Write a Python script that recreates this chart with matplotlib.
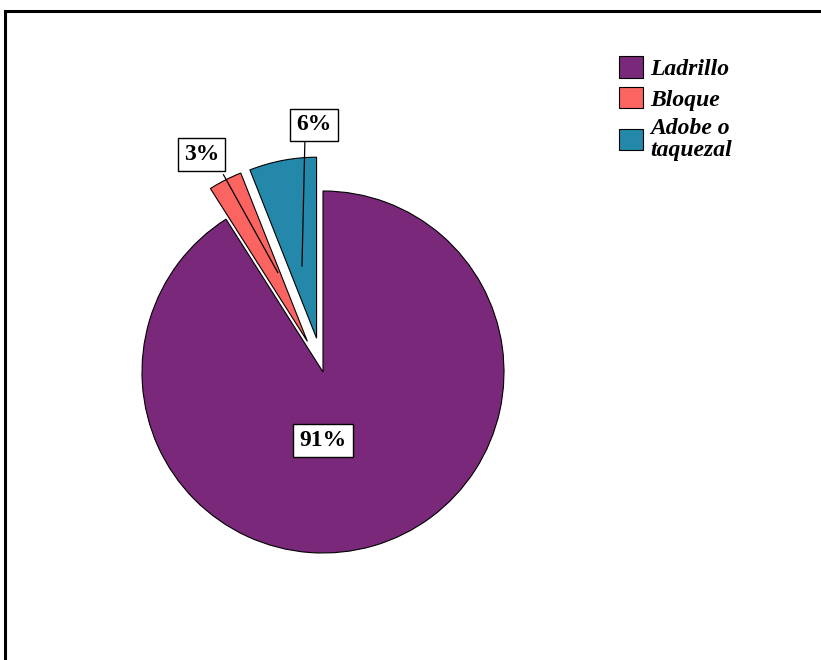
import matplotlib.pyplot as plt
from matplotlib.patches import Rectangle

# datos
categorias = ['Ladrillo', 'Bloque', 'Adobe o\ntaquezal']
porcentajes = [91, 3, 6]
etiquetas = ['91%', '3%', '6%']
colores = ['#7a2879', '#fb6461', '#2388a9']
separacion = [0, 0.19, 0.19]

plt.rcParams['font.family'] = ['Liberation Serif', 'DejaVu Serif']

fig = plt.figure(figsize=(8.21, 6.60), dpi=100)

# marco exterior (se sale por la derecha y por abajo)
fig.patches.append(Rectangle((5 / 821, -0.1), 1.2, 1.1 - 11 / 660,
                             transform=fig.transFigure, fill=False,
                             edgecolor='black', linewidth=2.2))

# eje cuadrado centrado en el pastel (radio 181 px)
r_px = 181
half = 220
cx, cy = 323, 372
ax = fig.add_axes([(cx - half) / 821, (660 - cy - half) / 660,
                   2 * half / 821, 2 * half / 660])
lim = half / r_px

wedges, _ = ax.pie(porcentajes, colors=colores, startangle=90, counterclock=False,
                   explode=separacion, radius=1,
                   wedgeprops=dict(edgecolor='black', linewidth=0.8))
ax.set_xlim(-lim, lim)
ax.set_ylim(-lim, lim)
ax.set_aspect('equal')
ax.axis('off')

caja = dict(boxstyle='square,pad=0.25', facecolor='white', edgecolor='black', linewidth=1)

# etiquetas de porcentaje con lineas guia
ax.text(0, -0.38, etiquetas[0], ha='center', va='center', fontsize=17,
        fontweight='bold', bbox=caja)

ax.plot([-0.55, -0.25], [1.09, 0.55], color='black', linewidth=0.9, clip_on=False)
ax.text(-0.67, 1.20, etiquetas[1], ha='center', va='center', fontsize=17,
        fontweight='bold', bbox=caja, clip_on=False)

ax.plot([-0.10, -0.116], [1.28, 0.586], color='black', linewidth=0.9, clip_on=False)
ax.text(-0.05, 1.365, etiquetas[2], ha='center', va='center', fontsize=17,
        fontweight='bold', bbox=caja, clip_on=False)

leg = fig.legend(wedges, categorias, loc='upper left',
                 bbox_to_anchor=(610 / 821, 1 - 47 / 660), frameon=False,
                 prop=dict(family='Liberation Serif', weight='bold', style='italic', size=17),
                 handlelength=1.0, handleheight=1.0, handletextpad=0.3,
                 labelspacing=0.3, borderaxespad=0)
for t in leg.get_texts():
    t.set_linespacing(1.05)

fig.savefig('out.png', dpi=100)
